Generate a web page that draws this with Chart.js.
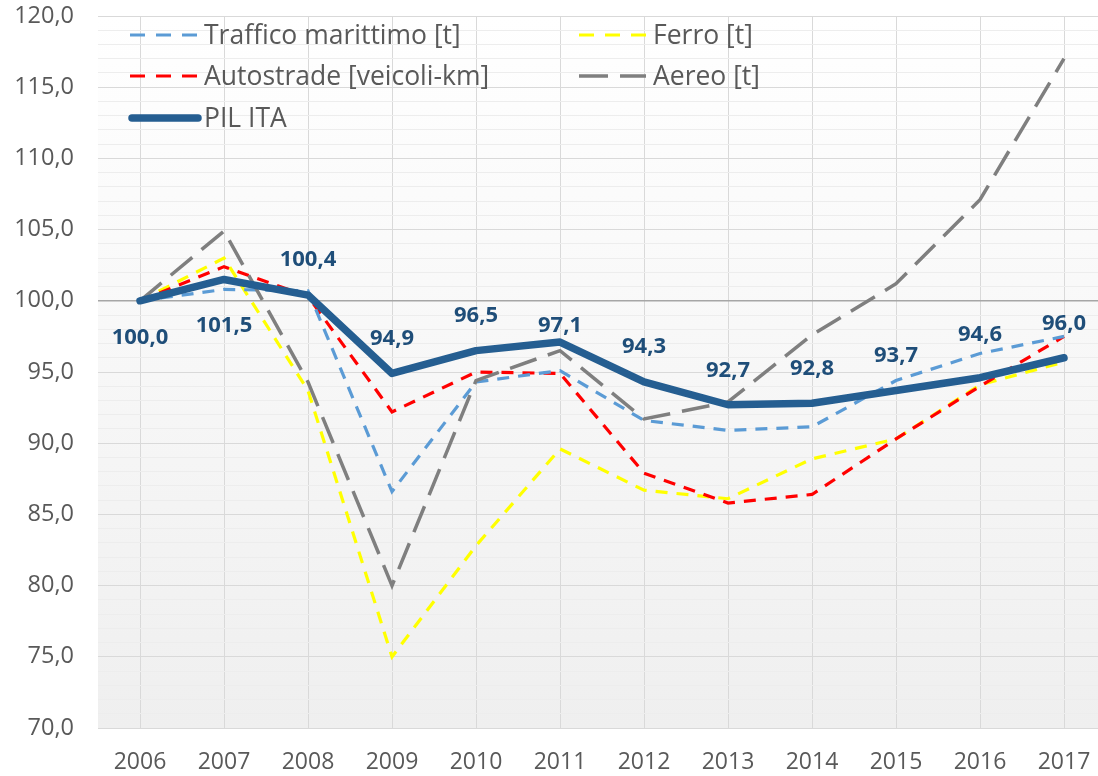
<!DOCTYPE html>
<html>
<head>
<meta charset="utf-8">
<script src="https://cdn.jsdelivr.net/npm/chart.js@4"></script>
<style>
  html, body { margin: 0; padding: 0; background: #ffffff; overflow: hidden; }
  #wrap { width: 1098px; height: 776px; overflow: hidden; }
</style>
</head>
<body>
<div id="wrap"><canvas id="c" width="1106" height="776"></canvas></div>
<script>
// ---- data ----
const years = ['2006','2007','2008','2009','2010','2011','2012','2013','2014','2015','2016','2017'];
const trafficoMarittimo = [100.0, 100.8, 100.7, 86.6, 94.3, 95.1, 91.6, 90.9, 91.15, 94.4, 96.3, 97.5];
const ferro = [100.0, 103.0, 93.7, 75.0, 82.8, 89.6, 86.7, 86.1, 88.9, 90.3, 94.1, 95.7];
const autostrade = [100.0, 102.4, 100.3, 92.2, 95.0, 94.9, 87.9, 85.8, 86.4, 90.3, 94.0, 97.5];
const aereo = [100.0, 104.9, 94.3, 80.0, 94.4, 96.5, 91.7, 92.9, 97.6, 101.2, 107.1, 117.0];
const pilIta = [100.0, 101.5, 100.4, 94.9, 96.5, 97.1, 94.3, 92.7, 92.8, 93.7, 94.6, 96.0];
const seriesNames = ['Traffico marittimo [t]', 'Ferro [t]', 'Autostrade [veicoli-km]', 'Aereo [t]', 'PIL ITA'];
const yMin = 70, yMax = 120, yStep = 1, yLabelStep = 5;

// ---- styling ----
const FONT = "'Open Sans', 'DejaVu Sans', sans-serif";
const TEXT = '#595959';
const labelOffsets = [37, 46, -35, -35, -35, -16, -35, -34, -35, -35, -43, -34];

const fmt = v => v.toFixed(1).replace('.', ',');

const bgPlugin = {
  id: 'bg',
  beforeDraw(chart) {
    const {ctx, chartArea: a} = chart;
    const g = ctx.createLinearGradient(0, a.top, 0, a.bottom);
    g.addColorStop(0, '#ffffff');
    g.addColorStop(1, '#efefef');
    ctx.save();
    ctx.fillStyle = g;
    ctx.fillRect(a.left, a.top, a.right - a.left, a.bottom - a.top);
    ctx.restore();
  }
};

const labelPlugin = {
  id: 'pilLabels',
  afterDatasetsDraw(chart) {
    const {ctx} = chart;
    const idx = chart.data.datasets.findIndex(d => d.label === 'PIL ITA');
    const meta = chart.getDatasetMeta(idx);
    const data = chart.data.datasets[idx].data;
    ctx.save();
    ctx.font = 'bold 22px ' + FONT;
    ctx.fillStyle = '#1F4E79';
    ctx.textAlign = 'center';
    ctx.textBaseline = 'middle';
    meta.data.forEach((pt, i) => {
      ctx.fillText(fmt(data[i]), pt.x, pt.y + labelOffsets[i]);
    });
    ctx.restore();
  }
};

const legendPlugin = {
  id: 'customLegend',
  afterDraw(chart) {
    const {ctx} = chart;
    const cols = [130, 579];
    const rows = [35, 76, 118];
    ctx.save();
    ctx.font = '26.5px ' + FONT;
    ctx.textBaseline = 'middle';
    ctx.textAlign = 'left';
    chart.data.datasets.forEach((ds, i) => {
      const x = cols[i % 2];
      const y = rows[Math.floor(i / 2)];
      ctx.save();
      ctx.strokeStyle = ds.borderColor;
      ctx.lineWidth = ds.borderWidth;
      ctx.setLineDash(ds.legendDash || []);
      ctx.lineCap = ds.borderCapStyle || 'butt';
      ctx.beginPath();
      if (ds.borderCapStyle === 'round') {
        ctx.moveTo(x + 2, y); ctx.lineTo(x + 68, y);
      } else {
        ctx.moveTo(x, y); ctx.lineTo(x + 67, y);
      }
      ctx.stroke();
      ctx.restore();
      ctx.fillStyle = TEXT;
      ctx.fillText(ds.label, x + 74, y + 1);
    });
    ctx.restore();
  }
};

new Chart(document.getElementById('c'), {
  type: 'line',
  data: {
    labels: years,
    datasets: [
      { label: seriesNames[0], data: trafficoMarittimo, borderColor: '#5B9BD5', borderWidth: 3.2, borderDash: [12, 9], legendDash: [15, 11], order: 2 },
      { label: seriesNames[1], data: ferro, borderColor: '#FFFF00', borderWidth: 3.2, borderDash: [12, 9], legendDash: [15, 11], order: 4 },
      { label: seriesNames[2], data: autostrade, borderColor: '#FF0000', borderWidth: 3.2, borderDash: [12, 9], legendDash: [15, 11], order: 3 },
      { label: seriesNames[3], data: aereo, borderColor: '#7F7F7F', borderWidth: 3.5, borderDash: [28, 12], legendDash: [29, 12], order: 1 },
      { label: seriesNames[4], data: pilIta, borderColor: '#255E91', borderWidth: 7.5, borderCapStyle: 'round', borderJoinStyle: 'round', order: 0 }
    ].map(d => Object.assign({ pointRadius: 0, pointHoverRadius: 0, tension: 0, fill: false, backgroundColor: d.borderColor }, d))
  },
  options: {
    responsive: false,
    animation: false,
    events: [],
    layout: { padding: { top: 16, right: 0, bottom: 0, left: 0 } },
    plugins: { legend: { display: false }, tooltip: { enabled: false } },
    scales: {
      x: {
        offset: true,
        grid: { display: true, offset: false, color: '#d9d9d9', drawTicks: false },
        border: { display: false },
        ticks: { color: TEXT, font: { family: FONT, size: 23 }, padding: 21, maxRotation: 0, autoSkip: false },
        afterFit(s) { s.height = 48; s.paddingLeft = 0; s.paddingRight = 0; }
      },
      y: {
        min: yMin, max: yMax,
        grid: {
          drawTicks: false,
          color: c => {
            const v = c.tick ? c.tick.value : 0;
            if (v === 100) return '#a6a6a6';
            if (v % yLabelStep === 0) return '#d9d9d9';
            return '#ededed';
          },
          lineWidth: c => (c.tick && c.tick.value === 100) ? 1.6 : 1
        },
        border: { display: false },
        ticks: {
          stepSize: yStep,
          autoSkip: false,
          color: TEXT,
          font: { family: FONT, size: 23.5 },
          padding: 24,
          callback: v => (v % yLabelStep === 0 ? fmt(v) : '')
        },
        afterFit(s) { s.width = 98; s.paddingTop = 0; s.paddingBottom = 0; }
      }
    }
  },
  plugins: [bgPlugin, labelPlugin, legendPlugin]
});
</script>
</body>
</html>
